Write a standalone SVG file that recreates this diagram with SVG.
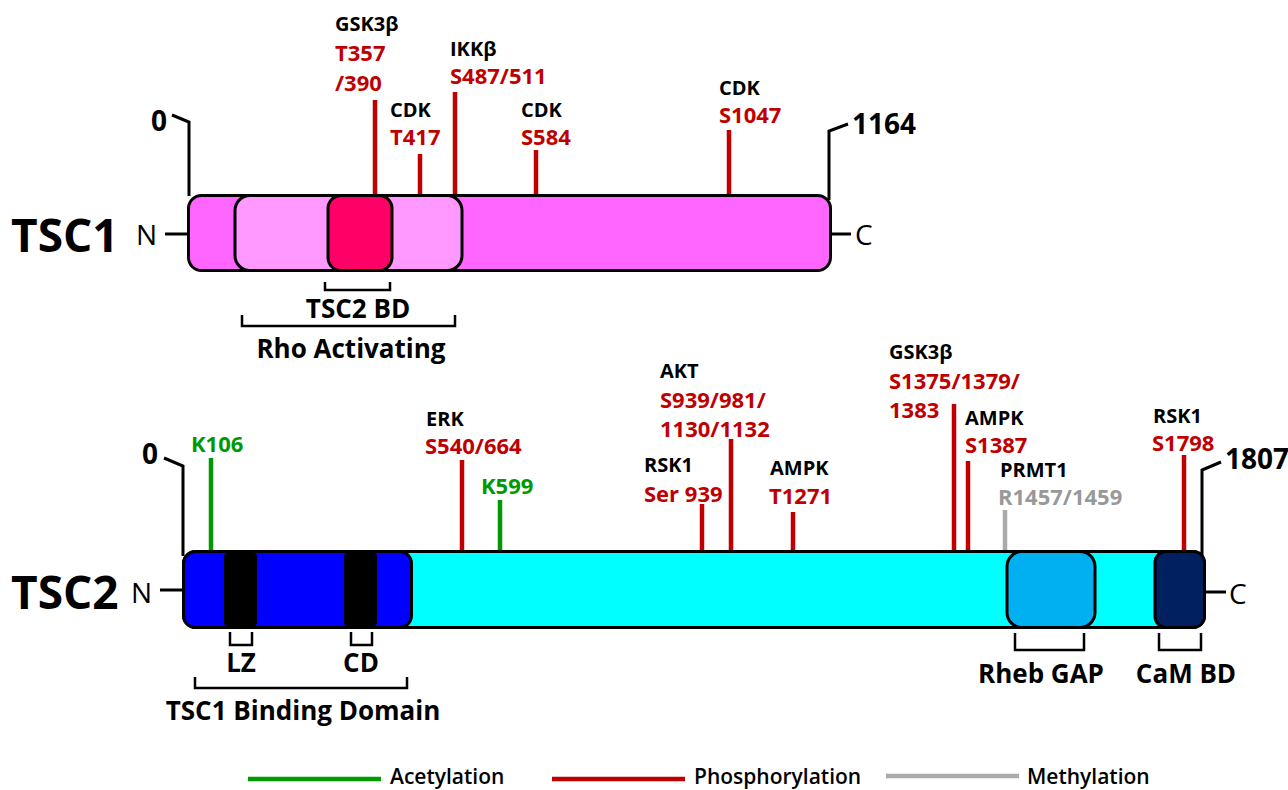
<svg xmlns="http://www.w3.org/2000/svg" width="1288" height="790" viewBox="0 0 1288 790">
<style>
text{font-family:"Open Sans","Liberation Sans",sans-serif}
.k{font-size:20px;font-weight:700;fill:#000}
.r{font-size:22px;font-weight:700;fill:#C00000}
.g{font-size:22px;font-weight:700;fill:#009900}
.gy{font-size:22px;font-weight:700;fill:#999999}
.title{font-size:46px;font-weight:700}
.num{font-size:28px;font-weight:700}
.nc{font-size:28px;font-weight:400}
.dom{font-size:26px;font-weight:700;text-anchor:middle}
.leg{font-size:21px;font-weight:600}
.box{stroke:#000;stroke-width:3}
.br{fill:none;stroke:#000;stroke-width:2.5}
.ln{fill:none;stroke:#000;stroke-width:3}
.ph{stroke:#C00000;stroke-width:4.5}
.ac{stroke:#009900;stroke-width:4.5}
.me{stroke:#AAAAAA;stroke-width:4.5}
</style>

<g id="connectors">
  <line class="ph" x1="375" y1="100" x2="375" y2="196"/>
  <line class="ph" x1="420" y1="154" x2="420" y2="196"/>
  <line class="ph" x1="455" y1="92" x2="455" y2="196"/>
  <line class="ph" x1="536" y1="150" x2="536" y2="196"/>
  <line class="ph" x1="729" y1="130" x2="729" y2="196"/>
  <line class="ac" x1="211" y1="458" x2="211" y2="552"/>
  <line class="ph" x1="462" y1="460" x2="462" y2="552"/>
  <line class="ac" x1="500" y1="500" x2="500" y2="552"/>
  <line class="ph" x1="702" y1="504" x2="702" y2="552"/>
  <line class="ph" x1="731" y1="439" x2="731" y2="552"/>
  <line class="ph" x1="793" y1="512" x2="793" y2="552"/>
  <line class="ph" x1="954" y1="404" x2="954" y2="552"/>
  <line class="ph" x1="968" y1="461" x2="968" y2="552"/>
  <line class="me" x1="1005" y1="510" x2="1005" y2="552"/>
  <line class="ph" x1="1184" y1="455" x2="1184" y2="552"/>
  <polyline class="ln" points="172,115 189,122 189,196"/>
  <polyline class="ln" points="848,124 829,131 829,200"/>
  <polyline class="ln" points="164,458 183,466 183,556"/>
  <polyline class="ln" points="1221,462 1202,470 1202,560"/>
  <line class="ln" x1="165" y1="234" x2="189" y2="234"/>
  <line class="ln" x1="831" y1="234" x2="851" y2="234"/>
  <line class="ln" x1="160" y1="590" x2="184" y2="590"/>
  <line class="ln" x1="1205" y1="592" x2="1226" y2="592"/>
</g>

<g id="tsc1">
  <text class="title" x="11" y="252">TSC1</text>
  <text class="nc" x="136" y="245">N</text>
  <text class="nc" x="855" y="245">C</text>
  <text class="num" x="151" y="131">0</text>
  <text class="num" x="852" y="134">1164</text>
  <rect class="box" x="188.5" y="195.5" width="642" height="75" rx="13" fill="#FF66FF"/>
  <rect class="box" x="235" y="195.5" width="227" height="75" rx="15" fill="#FF99FF"/>
  <rect class="box" x="328" y="195.5" width="64" height="75" rx="13" fill="#FF0066"/>
</g>

<g id="tsc1-labels">
  <text class="k" x="335" y="31">GSK3β</text>
  <text class="r" x="335" y="61">T357</text>
  <text class="r" x="335" y="91">/390</text>
  <text class="k" x="390" y="117">CDK</text>
  <text class="r" x="390" y="145">T417</text>
  <text class="k" x="450" y="56">IKKβ</text>
  <text class="r" x="450" y="84">S487/511</text>
  <text class="k" x="521" y="117">CDK</text>
  <text class="r" x="521" y="145">S584</text>
  <text class="k" x="719" y="95">CDK</text>
  <text class="r" x="719" y="123">S1047</text>
</g>

<g id="tsc1-domains">
  <polyline class="br" points="325,282 325,290 390,290 390,282"/>
  <text class="dom" x="358" y="318">TSC2 BD</text>
  <polyline class="br" points="242,315 242,326 455,326 455,315"/>
  <text class="dom" x="351" y="358">Rho Activating</text>
</g>

<g id="tsc2">
  <text class="title" x="11" y="609">TSC2</text>
  <text class="nc" x="131" y="603">N</text>
  <text class="nc" x="1229" y="604">C</text>
  <text class="num" x="142" y="464">0</text>
  <text class="num" x="1225" y="469">1807</text>
  <rect class="box" x="183.5" y="551.5" width="1021" height="76" rx="12" fill="#00FFFF"/>
  <rect class="box" x="183.5" y="551.5" width="228" height="76" rx="12" fill="#0000FF"/>
  <rect x="224" y="553" width="33" height="73" rx="4" fill="#000"/>
  <rect x="344" y="553" width="33" height="73" rx="4" fill="#000"/>
  <rect class="box" x="1007" y="551.5" width="88" height="76" rx="15" fill="#00B0F0"/>
  <rect class="box" x="1155" y="551.5" width="49.5" height="76" rx="11" fill="#002060"/>
</g>

<g id="tsc2-labels">
  <text class="g" x="191" y="452">K106</text>
  <text class="k" x="426" y="426">ERK</text>
  <text class="r" x="425" y="454">S540/664</text>
  <text class="g" x="481" y="494">K599</text>
  <text class="k" x="660" y="378">AKT</text>
  <text class="r" x="660" y="408">S939/981/</text>
  <text class="r" x="660" y="437">1130/1132</text>
  <text class="k" x="644" y="472">RSK1</text>
  <text class="r" x="644" y="502">Ser 939</text>
  <text class="k" x="770" y="475">AMPK</text>
  <text class="r" x="769" y="504">T1271</text>
  <text class="k" x="889" y="359">GSK3β</text>
  <text class="r" x="889" y="389">S1375/1379/</text>
  <text class="r" x="889" y="418">1383</text>
  <text class="k" x="965" y="425">AMPK</text>
  <text class="r" x="965" y="453">S1387</text>
  <text class="k" x="1000" y="477">PRMT1</text>
  <text class="gy" x="998" y="505">R1457/1459</text>
  <text class="k" x="1153" y="423">RSK1</text>
  <text class="r" x="1152" y="451">S1798</text>
</g>

<g id="tsc2-domains">
  <polyline class="br" points="230,632 230,645 252,645 252,632"/>
  <text class="dom" x="241" y="672">LZ</text>
  <polyline class="br" points="351,632 351,645 372,645 372,632"/>
  <text class="dom" x="361" y="672">CD</text>
  <polyline class="br" points="195,677 195,688 407,688 407,677"/>
  <text class="dom" x="303" y="720">TSC1 Binding Domain</text>
  <polyline class="br" points="1015,633 1015,650 1084,650 1084,633"/>
  <text class="dom" x="1041" y="683">Rheb GAP</text>
  <polyline class="br" points="1159,633 1159,650 1201,650 1201,633"/>
  <text class="dom" x="1186" y="683">CaM BD</text>
</g>

<g id="legend">
  <line class="ac" x1="248" y1="779" x2="381" y2="779"/>
  <text class="leg" x="390" y="784">Acetylation</text>
  <line class="ph" x1="552" y1="779" x2="685" y2="779"/>
  <text class="leg" x="694" y="784">Phosphorylation</text>
  <line class="me" x1="886" y1="776" x2="1019" y2="776"/>
  <text class="leg" x="1027" y="784">Methylation</text>
</g>
</svg>
